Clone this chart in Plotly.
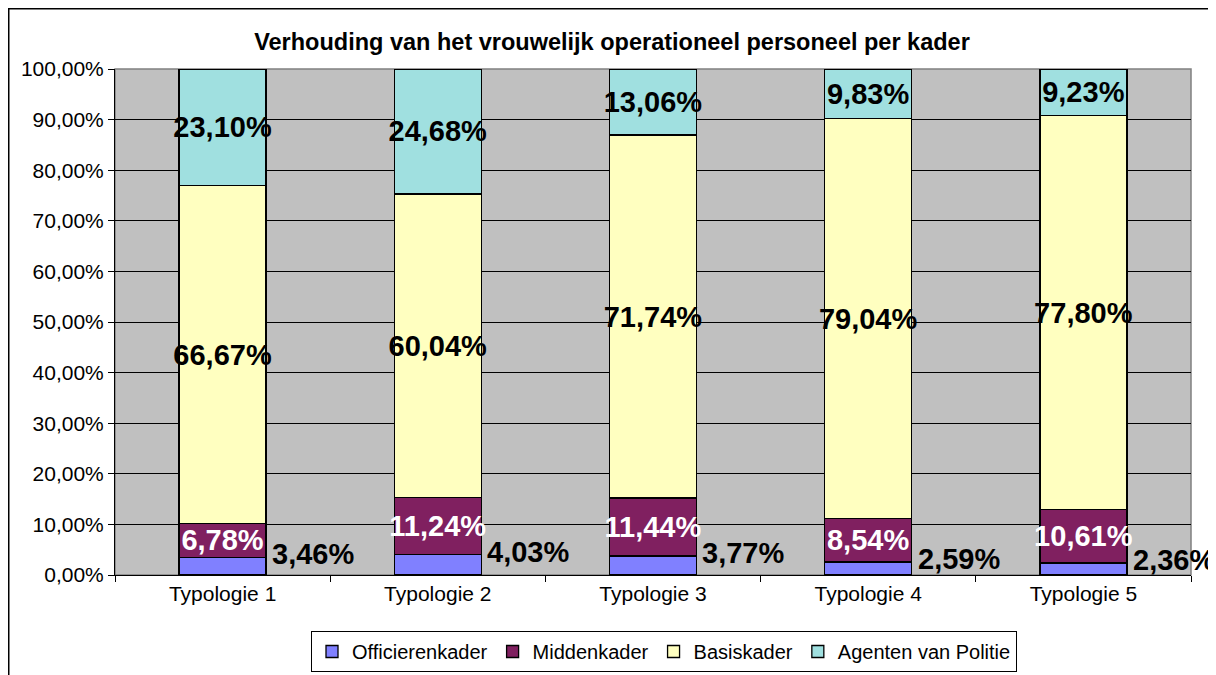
import plotly.graph_objects as go

categories = ["Typologie 1", "Typologie 2", "Typologie 3", "Typologie 4", "Typologie 5"]
officierenkader = [3.46, 4.03, 3.77, 2.59, 2.36]
middenkader = [6.78, 11.24, 11.44, 8.54, 10.61]
basiskader = [66.67, 60.04, 71.74, 79.04, 77.80]
agenten = [23.10, 24.68, 13.06, 9.83, 9.23]

series = [
    ("Officierenkader", officierenkader, "#8080FF", "black"),
    ("Middenkader", middenkader, "#802060", "white"),
    ("Basiskader", basiskader, "#FFFFC0", "black"),
    ("Agenten van Politie", agenten, "#A0E0E0", "black"),
]

# the page body has an 8px margin: the figure starts at (8, 8) on screen
OFF = 8
W, H = 1216 - OFF, 675 - OFF
PX0, PX1, PY0, PY1 = 115, 1191, 69, 575   # plot area in screen coordinates
L, R, T, B = PX0 - OFF, W - (PX1 - OFF), PY0 - OFF, H - (PY1 - OFF)
pw, ph = W - L - R, H - T - B


def px(x):
    return (x - PX0) / pw


def py(y):
    return (PY1 - y) / ph


def cy(y):
    return 1 - (y - OFF) / H


LABEL_FONT = dict(family="Liberation Sans, Arial", size=29, weight="bold")

fig = go.Figure()
for i, (name, vals, color, tcolor) in enumerate(series):
    fig.add_trace(go.Bar(
        name=name, x=categories, y=vals,
        marker=dict(color=color, line=dict(color="black", width=1.3)),
        text=None if i == 0 else vals,
        texttemplate=None if i == 0 else "%{y:.2f}%",
        textposition="none" if i == 0 else "inside",
        insidetextanchor="middle",
        textangle=0,
        constraintext="none",
        textfont=dict(LABEL_FONT, color=tcolor),
        hoverinfo="skip",
    ))

BARGAP = 0.596
bar_half_px = (pw / len(categories)) * (1 - BARGAP) / 2
for c, v in zip(categories, officierenkader):
    fig.add_annotation(
        x=c, y=v, xref="x", yref="y", text=f"{v:.2f}".replace(".", ",") + "%",
        showarrow=False, xanchor="left", yanchor="middle",
        xshift=bar_half_px + 4, yshift=3,
        font=dict(LABEL_FONT, color="black"),
    )

fig.add_shape(type="rect", xref="paper", yref="paper", x0=0, x1=1, y0=0, y1=1,
              line=dict(color="#808080", width=1.5), layer="below")
fig.add_shape(type="rect", xref="paper", yref="paper",
              x0=px(OFF + 0.75), x1=px(1211), y0=py(760), y1=py(OFF + 0.75),
              line=dict(color="black", width=1.5), layer="below")

fig.update_layout(
    width=W, height=H,
    margin=dict(l=L, r=R, t=T, b=B, pad=0),
    barmode="stack",
    bargap=BARGAP,
    separators=",.",
    paper_bgcolor="white",
    plot_bgcolor="#C0C0C0",
    font=dict(family="Liberation Sans, Arial", size=21, color="black"),
    title=dict(text="<b>Verhouding van het vrouwelijk operationeel personeel per kader</b>",
               x=(612 - OFF) / W, xanchor="center", xref="container",
               y=cy(42), yanchor="middle", yref="container",
               font=dict(size=23.5, color="black")),
    legend=dict(orientation="h", x=px(664), xanchor="center", xref="paper",
                y=cy(631), yanchor="top", yref="container",
                bordercolor="black", borderwidth=1, bgcolor="white",
                traceorder="normal", font=dict(size=20), itemwidth=30),
    showlegend=True,
)
fig.update_yaxes(range=[0, 100], dtick=10, tickformat=".2f", ticksuffix="%",
                 showgrid=True, gridcolor="black", gridwidth=1,
                 showline=True, linecolor="black", linewidth=1,
                 ticks="outside", ticklen=6, tickcolor="black",
                 zeroline=False, fixedrange=True)
fig.update_xaxes(range=[-0.5, len(categories) - 0.5],
                 showline=True, linecolor="black", linewidth=1,
                 ticks="outside", ticklen=6, tickcolor="black",
                 tickson="boundaries", showgrid=False, fixedrange=True)

fig.write_html("out.html")
